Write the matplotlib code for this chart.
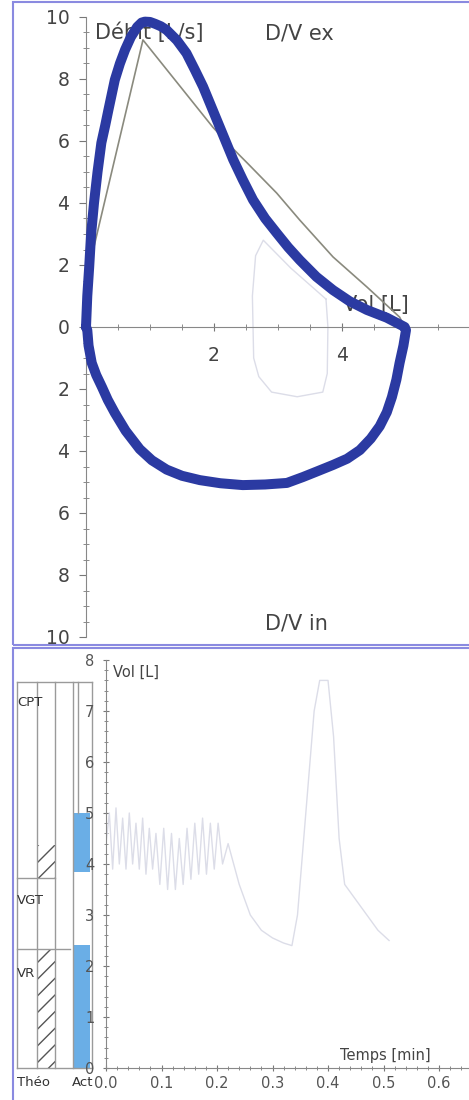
import numpy as np
import matplotlib.pyplot as plt
from matplotlib.ticker import MultipleLocator, FixedLocator, FuncFormatter

# boucle debit / volume (mesure)
exp_vol = [0.0, 0.01, 0.02, 0.05, 0.08, 0.125, 0.18, 0.24, 0.3, 0.35, 0.45, 0.53,
           0.61, 0.7, 0.8, 0.87, 0.92, 1.0, 1.08, 1.17, 1.26, 1.42, 1.57, 1.7,
           1.83, 1.96, 2.09, 2.2, 2.3, 2.45, 2.61, 2.8, 2.98, 3.16, 3.34, 3.6,
           3.86, 4.12, 4.39, 4.7, 4.98]
exp_flow = [0.0, 0.5, 1.0, 1.94, 3.0, 4.0, 5.0, 5.94, 6.5, 7.0, 7.97, 8.5,
            8.94, 9.35, 9.68, 9.82, 9.85, 9.84, 9.78, 9.7, 9.58, 9.25, 8.83, 8.3,
            7.75, 7.1, 6.45, 5.9, 5.4, 4.75, 4.1, 3.5, 3.03, 2.57, 2.16, 1.62,
            1.19, 0.83, 0.55, 0.3, 0.0]
insp_vol = [5.0, 4.96, 4.9, 4.85, 4.78, 4.7, 4.59, 4.45, 4.28, 4.08, 3.86, 3.62,
            3.39, 3.14, 2.8, 2.45, 2.1, 1.78, 1.5, 1.26, 1.03, 0.84, 0.62, 0.45,
            0.34, 0.25, 0.16, 0.09, 0.04, 0.02, 0.0]
insp_flow = [-0.1, -0.6, -1.16, -1.7, -2.26, -2.75, -3.2, -3.6, -3.97, -4.25, -4.45, -4.65,
             -4.84, -5.03, -5.08, -5.1, -5.04, -4.94, -4.8, -4.6, -4.3, -3.94, -3.35, -2.77,
             -2.35, -1.94, -1.55, -1.16, -0.6, -0.1, 0.0]

# courbe theorique
theo_vol = [0.05, 0.89, 1.98, 2.25, 2.52, 2.98, 3.34, 3.86, 4.39, 4.9, 4.98]
theo_flow = [1.94, 9.26, 6.45, 5.85, 5.29, 4.32, 3.45, 2.26, 1.29, 0.32, 0.0]

# boucle courante (tres pale)
tid_vol = [3.75, 3.2, 2.77, 2.65, 2.6, 2.62, 2.7, 2.9, 3.3, 3.7, 3.77, 3.78, 3.75]
tid_flow = [0.9, 1.9, 2.8, 2.3, 1.0, -1.0, -1.6, -2.1, -2.25, -2.1, -1.5, 0.0, 0.9]

# volume / temps (tres pale)
vt_t = [0.0, 0.006, 0.012, 0.018, 0.024, 0.030, 0.036, 0.042, 0.048, 0.054, 0.060,
        0.066, 0.072, 0.078, 0.084, 0.090, 0.097, 0.104, 0.111, 0.118, 0.125, 0.132,
        0.139, 0.146, 0.153, 0.160, 0.167, 0.174, 0.181, 0.188, 0.195, 0.202, 0.210,
        0.220, 0.240, 0.260, 0.280, 0.300, 0.320, 0.335, 0.345, 0.360,
        0.375, 0.385, 0.400, 0.410, 0.420, 0.430, 0.450, 0.470, 0.490, 0.510]
vt_vol = [4.4, 5.0, 3.9, 5.1, 4.0, 4.9, 3.9, 5.0, 4.0, 4.8, 3.9,
          4.9, 3.8, 4.7, 3.9, 4.6, 3.6, 4.7, 3.5, 4.6, 3.5, 4.5,
          3.6, 4.7, 3.7, 4.8, 3.8, 4.9, 3.8, 4.8, 3.9, 4.8, 4.0,
          4.4, 3.6, 3.0, 2.7, 2.55, 2.45, 2.4, 3.0, 5.0,
          7.0, 7.6, 7.6, 6.5, 4.5, 3.6, 3.3, 3.0, 2.7, 2.5]

# barres volumes
cpt_top = 7.57
vgt_line = 3.72
vr_line = 2.33
theo_hatch = [(3.72, 4.37), (0.0, 2.33)]
act_bars = [(3.85, 5.0), (0.0, 2.41)]
bar_labels = ['CPT', 'VGT', 'VR']
bar_label_y = [7.16, 3.29, 1.86]

W, H = 469, 1100
fig = plt.figure(figsize=(W/100, H/100), dpi=100)
plt.rcParams['hatch.linewidth'] = 1.0


def px_axes(x0, y0, x1, y1):
    return fig.add_axes([x0/W, 1 - y1/H, (x1 - x0)/W, (y1 - y0)/H])


frame_col = '#8a8ae0'
fig.add_artist(plt.Rectangle((13/W, 1 - 645/H), 470/W, 643/H, transform=fig.transFigure,
                             fill=False, ec=frame_col, lw=1.5))
fig.add_artist(plt.Rectangle((13/W, 1 - 1110/H), 470/W, 462/H, transform=fig.transFigure,
                             fill=False, ec=frame_col, lw=1.5))

tick_col = '#777777'
txt_col = '#444444'

# ---- panneau debit / volume
ax = px_axes(66.8, 10.8, 468.7, 643.2)
ax.set_xlim(-0.3, 5.98)
ax.set_ylim(-10.2, 10.2)
ax.patch.set_alpha(0)
for s in ['top', 'right']:
    ax.spines[s].set_visible(False)
ax.spines['left'].set_position(('data', 0))
ax.spines['bottom'].set_position(('data', 0))
ax.spines['left'].set_bounds(-10, 10)
ax.spines['bottom'].set_bounds(0, 5.98)
for s in ['left', 'bottom']:
    ax.spines[s].set_color('#888888')

ax.yaxis.set_major_locator(MultipleLocator(2))
ax.yaxis.set_minor_locator(MultipleLocator(0.5))
ax.yaxis.set_major_formatter(FuncFormatter(lambda v, p: '%d' % abs(round(v))))
ax.xaxis.set_major_locator(FixedLocator([2, 4]))
ax.xaxis.set_minor_locator(FixedLocator(np.arange(0.5, 6, 0.5)))
ax.tick_params(axis='y', which='major', direction='out', length=5, pad=7,
               labelsize=13.5, colors=tick_col, labelcolor=txt_col)
ax.tick_params(axis='y', which='minor', direction='inout', length=4, colors=tick_col)
ax.tick_params(axis='x', which='major', direction='inout', length=6, pad=11,
               labelsize=13.5, colors=tick_col, labelcolor=txt_col)
ax.tick_params(axis='x', which='minor', direction='inout', length=5, colors=tick_col)

ax.plot(tid_vol, tid_flow, color='#dcdde8', lw=1, zorder=1)
ax.plot(theo_vol, theo_flow, color='#8a8a7e', lw=1.2, zorder=4)
ax.plot(exp_vol + insp_vol, exp_flow + insp_flow, color='#2b3aa2', lw=7.2,
        solid_joinstyle='round', solid_capstyle='round', zorder=5)

ax.text(0.14, 9.48, 'Débit [L/s]', fontsize=15, color=txt_col, va='center', zorder=3)
ax.text(2.8, 9.48, 'D/V ex', fontsize=15, color=txt_col, va='center')
ax.text(4.02, 0.71, 'Vol [L]', fontsize=15, color=txt_col, va='center', zorder=3)
ax.text(2.8, -9.58, 'D/V in', fontsize=15, color=txt_col, va='center')

# ---- barres Theo / Act (sous le panneau volume / temps)
axb = px_axes(13, 654.9, 106, 1073.1)
axb.set_xlim(13, 106)
axb.set_ylim(-0.1, 8.1)
axb.axis('off')

line_col = '#9a9a9a'
theo_x0, theo_x1 = 37, 55
act_x0, act_x1 = 73, 92

for (lo, hi) in theo_hatch:
    axb.bar(theo_x0, hi - lo, bottom=lo, width=theo_x1 - theo_x0, align='edge',
            color='white', edgecolor='#555555', hatch='//', lw=0)
for (lo, hi) in act_bars:
    axb.bar(act_x0, hi - lo, bottom=lo, width=act_x1 - act_x0 - 2, align='edge',
            color='#6aaee6', lw=0)

for xv in [17, theo_x0, theo_x1, act_x0, act_x1]:
    axb.plot([xv, xv], [0, cpt_top], color=line_col, lw=1)
axb.plot([78, 78], [act_bars[0][1], cpt_top], color=line_col, lw=1)
axb.plot([17, act_x1], [cpt_top, cpt_top], color=line_col, lw=1)
axb.plot([17, act_x1], [0, 0], color=line_col, lw=1)
axb.plot([17, theo_x1], [vgt_line, vgt_line], color=line_col, lw=1)
axb.plot([17, 70], [vr_line, vr_line], color=line_col, lw=1)

for lab, yv in zip(bar_labels, bar_label_y):
    axb.text(17, yv, lab, fontsize=9.5, color='#333333', va='center')
axb.text(17, -0.29, 'Théo', fontsize=9.5, color='#333333', va='center')
axb.text(72, -0.29, 'Act', fontsize=9.5, color='#333333', va='center')

# ---- panneau volume / temps
ax2 = px_axes(106, 654.9, 469, 1073.1)
ax2.set_xlim(0, 0.654)
ax2.set_ylim(-0.1, 8.1)
ax2.patch.set_alpha(0)
for s in ['top', 'right']:
    ax2.spines[s].set_visible(False)
ax2.spines['bottom'].set_position(('data', 0))
ax2.spines['left'].set_bounds(0, 8)
for s in ['left', 'bottom']:
    ax2.spines[s].set_color('#888888')
ax2.yaxis.set_major_locator(MultipleLocator(1))
ax2.yaxis.set_minor_locator(MultipleLocator(0.2))
ax2.xaxis.set_major_locator(MultipleLocator(0.1))
ax2.xaxis.set_minor_locator(MultipleLocator(0.02))
ax2.xaxis.set_major_formatter(FuncFormatter(lambda v, p: '%.1f' % v))
ax2.tick_params(axis='both', which='major', direction='inout', length=5,
                labelsize=10.5, colors=tick_col, labelcolor='#555555')
ax2.tick_params(axis='y', which='major', pad=6)
ax2.tick_params(axis='x', which='major', pad=3)
ax2.tick_params(axis='both', which='minor', direction='inout', length=3, colors=tick_col)

ax2.plot(vt_t, vt_vol, color='#dcdde8', lw=1)
ax2.text(0.013, 7.76, 'Vol [L]', fontsize=10.5, color=txt_col, va='center')
ax2.text(0.584, 0.25, 'Temps [min]', fontsize=10.5, color=txt_col, va='center', ha='right')

fig.savefig('out.png', dpi=100)
